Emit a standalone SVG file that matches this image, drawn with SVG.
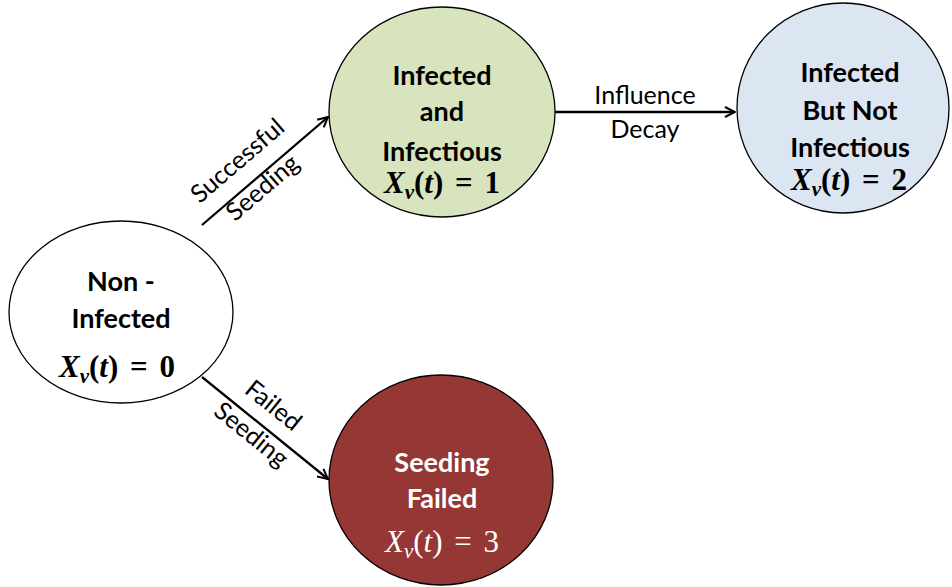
<svg xmlns="http://www.w3.org/2000/svg" width="952" height="587" viewBox="0 0 952 587">
<defs>
<marker id="arr" viewBox="0 0 12 12" refX="11" refY="6" markerWidth="12" markerHeight="12" markerUnits="userSpaceOnUse" orient="auto">
<path d="M1,1 L11,6 L1,11" fill="none" stroke="#000" stroke-width="2"/>
</marker>
<style>
.node{stroke:#000;stroke-width:1.3}
.t{font-family:Lato,"Open Sans","Liberation Sans",sans-serif;font-weight:bold;font-size:27px;text-anchor:middle;fill:#000}
.m{font-family:"Liberation Serif","DejaVu Serif",serif;font-weight:bold;font-size:31px;text-anchor:middle;fill:#000;word-spacing:4px}
.i{font-style:italic}
.s{font-size:21px}
.w{fill:#fff;font-weight:normal}
.lab{font-family:Lato,"Open Sans","Liberation Sans",sans-serif;font-size:25px;text-anchor:middle;fill:#000}
.c{stroke:#000;stroke-width:2.3;fill:none;marker-end:url(#arr)}
</style>
</defs>
<rect width="952" height="587" fill="#fff"/>
<g id="connectors">
<line class="c" x1="202" y1="225" x2="328" y2="117"/>
<line class="c" x1="202" y1="377" x2="328" y2="479"/>
<line class="c" x1="555" y1="112" x2="735" y2="112"/>
<text class="lab" transform="translate(243,167) rotate(-40.6)">Successful</text>
<text class="lab" transform="translate(268,194) rotate(-40.6)">Seeding</text>
<text class="lab" transform="translate(268,412) rotate(39)">Failed</text>
<text class="lab" transform="translate(246,441) rotate(39)">Seeding</text>
<text class="lab" x="645" y="104">Influence</text>
<text class="lab" x="645" y="138">Decay</text>
</g>
<g id="non-infected">
<ellipse class="node" cx="121" cy="312" rx="112" ry="91" fill="#fff"/>
<text class="t" x="121" y="291">Non -</text>
<text class="t" x="121" y="328">Infected</text>
<text class="m" x="117" y="377"><tspan class="i">X</tspan><tspan class="i s" dy="6">v</tspan><tspan dy="-6">(</tspan><tspan class="i">t</tspan>) = 0</text>
</g>
<g id="infected-infectious">
<ellipse class="node" cx="442" cy="112" rx="113" ry="105" fill="#D7E4BD"/>
<text class="t" x="442" y="85">Infected</text>
<text class="t" x="442" y="121">and</text>
<text class="t" x="442" y="161">Infectious</text>
<text class="m" x="442" y="193"><tspan class="i">X</tspan><tspan class="i s" dy="6">v</tspan><tspan dy="-6">(</tspan><tspan class="i">t</tspan>) = 1</text>
</g>
<g id="infected-not-infectious">
<ellipse class="node" cx="843" cy="108" rx="106" ry="105" fill="#DCE6F2"/>
<text class="t" x="850" y="82">Infected</text>
<text class="t" x="850" y="120">But Not</text>
<text class="t" x="850" y="157">Infectious</text>
<text class="m" x="849" y="190"><tspan class="i">X</tspan><tspan class="i s" dy="6">v</tspan><tspan dy="-6">(</tspan><tspan class="i">t</tspan>) = 2</text>
</g>
<g id="seeding-failed">
<ellipse class="node" cx="441" cy="480" rx="112" ry="105" fill="#953735"/>
<text class="t" x="442" y="472" fill="#fff" style="fill:#fff">Seeding</text>
<text class="t" x="442" y="508" style="fill:#fff">Failed</text>
<text class="m" x="442" y="552" style="fill:#fff;font-weight:normal"><tspan class="i">X</tspan><tspan class="i s" dy="6">v</tspan><tspan dy="-6">(</tspan><tspan class="i">t</tspan>) = 3</text>
</g>
</svg>
